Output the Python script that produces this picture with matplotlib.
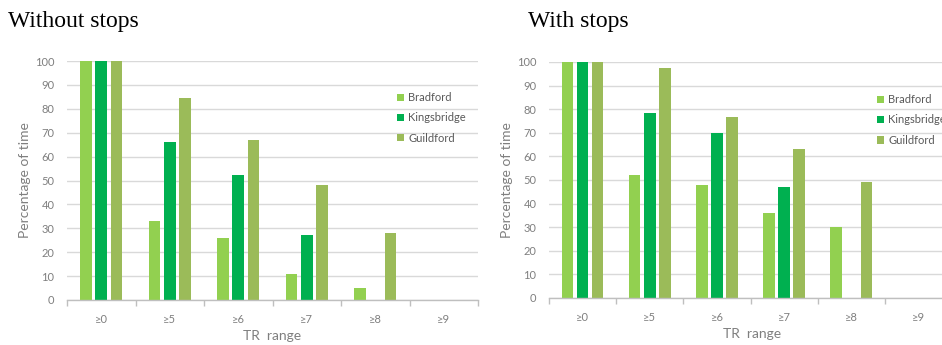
import matplotlib
matplotlib.use("Agg")
import matplotlib.pyplot as plt
import numpy as np

categories = ["≥0", "≥5", "≥6", "≥7", "≥8", "≥9"]
series_names = ["Bradford", "Kingsbridge", "Guildford"]
colors = ["#92D050", "#00B050", "#9BBB59"]

without_bradford = [100, 33, 26, 11, 5, 0]
without_kingsbridge = [100, 66, 52.5, 27, 0, 0]
without_guildford = [100, 84.5, 67, 48, 28, 0]

with_bradford = [100, 52, 48, 36, 30, 0]
with_kingsbridge = [100, 78.5, 70, 47, 0, 0]
with_guildford = [100, 97.5, 76.5, 63, 49, 0]

W, H = 942, 345
fig = plt.figure(figsize=(W / 100, H / 100), dpi=100)

SANS = ["Lato", "DejaVu Sans"]
SERIF = ["Liberation Serif", "DejaVu Serif"]
TICK_C = "#7F7F7F"
LABEL_C = "#7F7F7F"
LEG_C = "#595959"
GRID_C = "#D9D9D9"


def px_axes(x0, x1, ytop, ybot):
    return fig.add_axes([x0 / W, (H - ybot) / H, (x1 - x0) / W, (ybot - ytop) / H])


def panel(ax, data, title_xy, title, ylab_x, xlab_xy, leg_xy):
    x = np.arange(len(categories))
    off = 0.224
    bw = 0.172
    for i, (vals, name, c) in enumerate(zip(data, series_names, colors)):
        ax.bar(x + (i - 1) * off, vals, width=bw, color=c, label=name, zorder=3)
    ax.set_xlim(-0.5, len(categories) - 0.5)
    ax.set_ylim(0, 100)
    ax.set_yticks(range(0, 101, 10))
    ax.yaxis.grid(True, color=GRID_C, linewidth=1.0, zorder=0)
    ax.set_axisbelow(True)
    for s in ["top", "right", "left"]:
        ax.spines[s].set_visible(False)
    ax.spines["bottom"].set_color("#BFBFBF")
    ax.spines["bottom"].set_linewidth(1.0)
    ax.spines["bottom"].set_zorder(4)
    ax.set_xticks(x)
    ax.set_xticklabels(categories)
    ax.set_xticks(np.arange(-0.5, len(categories), 1.0), minor=True)
    ax.tick_params(axis="x", which="major", length=0, pad=10,
                   labelsize=8, labelcolor=TICK_C)
    ax.tick_params(axis="x", which="minor", length=4, color="#BFBFBF", width=1)
    ax.tick_params(axis="y", length=0, pad=9, labelsize=8, labelcolor=TICK_C)
    for lab in ax.get_xticklabels() + ax.get_yticklabels():
        lab.set_family(SANS)

    fig.text(title_xy[0] / W, 1 - title_xy[1] / H, title, family=SERIF,
             fontsize=17, color="black", ha="left", va="center")
    fig.text(ylab_x / W, 1 - 180 / H, "Percentage of time", family=SANS,
             fontsize=10, color=LABEL_C, rotation=90, ha="center", va="center")
    fig.text(xlab_xy[0] / W, 1 - xlab_xy[1] / H, "TR  range", family=SANS,
             fontsize=10, color=LABEL_C, ha="center", va="center")

    leg = ax.legend(loc="upper left", bbox_to_anchor=(leg_xy[0] / W, 1 - leg_xy[1] / H),
                    bbox_transform=fig.transFigure, frameon=False,
                    handlelength=0.6, handleheight=0.6, handletextpad=0.4,
                    labelspacing=0.85, borderpad=0, borderaxespad=0,
                    prop={"family": SANS, "size": 8})
    for t in leg.get_texts():
        t.set_color(LEG_C)


ax1 = px_axes(67, 478, 61, 300)
panel(ax1, [without_bradford, without_kingsbridge, without_guildford],
      (8, 22), "Without stops", 25, (272, 336), (397, 92))

ax2 = px_axes(549, 952, 62, 298)
panel(ax2, [with_bradford, with_kingsbridge, with_guildford],
      (528, 22), "With stops", 507, (752, 334), (877, 94))

fig.savefig("out.png", dpi=100)
